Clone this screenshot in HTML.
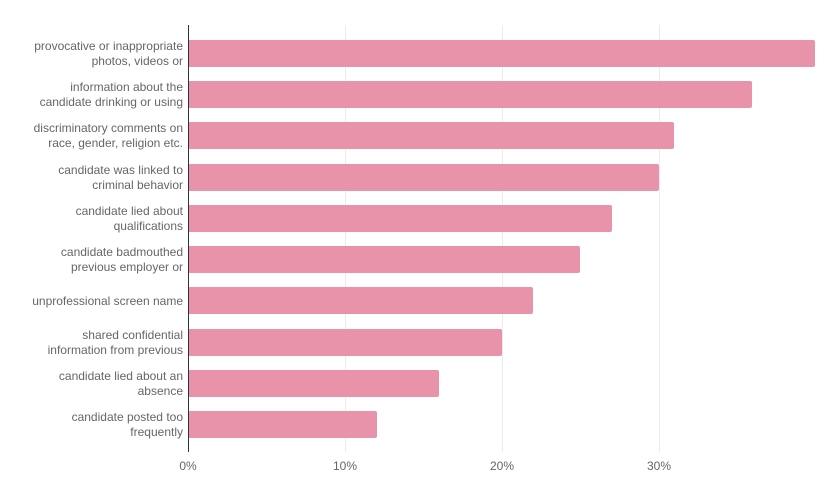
<!DOCTYPE html>
<html><head><style>body{margin:0;background:#fff}svg{display:block}text{font-family:"Liberation Sans",sans-serif;font-size:12px;fill:#666}</style></head>
<body>
<svg width="840" height="498" xmlns="http://www.w3.org/2000/svg">
<g stroke="#ebebeb" stroke-width="1">
<line x1="345.5" y1="25" x2="345.5" y2="452"/><line x1="502.5" y1="25" x2="502.5" y2="452"/><line x1="659.5" y1="25" x2="659.5" y2="452"/>
</g>
<g fill="#e993aa">
<rect x="188" y="40" width="627" height="27" rx="2"/>
<rect x="188" y="81" width="564" height="27" rx="2"/>
<rect x="188" y="122" width="486" height="27" rx="2"/>
<rect x="188" y="164" width="471" height="27" rx="2"/>
<rect x="188" y="205" width="424" height="27" rx="2"/>
<rect x="188" y="246" width="392" height="27" rx="2"/>
<rect x="188" y="287" width="345" height="27" rx="2"/>
<rect x="188" y="329" width="314" height="27" rx="2"/>
<rect x="188" y="370" width="251" height="27" rx="2"/>
<rect x="188" y="411" width="189" height="27" rx="2"/>
</g>
<line x1="188.5" y1="25" x2="188.5" y2="452" stroke="#333" stroke-width="1"/>
<g text-anchor="end">
<text x="183" y="50">provocative or inappropriate</text><text x="183" y="65">photos, videos or</text>
<text x="183" y="91">information about the</text><text x="183" y="106">candidate drinking or using</text>
<text x="183" y="132">discriminatory comments on</text><text x="183" y="147">race, gender, religion etc.</text>
<text x="183" y="174">candidate was linked to</text><text x="183" y="189">criminal behavior</text>
<text x="183" y="215">candidate lied about</text><text x="183" y="230">qualifications</text>
<text x="183" y="256">candidate badmouthed</text><text x="183" y="271">previous employer or</text>
<text x="183" y="305">unprofessional screen name</text>
<text x="183" y="339">shared confidential</text><text x="183" y="354">information from previous</text>
<text x="183" y="380">candidate lied about an</text><text x="183" y="395">absence</text>
<text x="183" y="421">candidate posted too</text><text x="183" y="436">frequently</text>
</g>
<g text-anchor="middle">
<text x="188" y="470">0%</text><text x="345" y="470">10%</text><text x="502" y="470">20%</text><text x="659" y="470">30%</text>
</g>
</svg>
</body></html>
